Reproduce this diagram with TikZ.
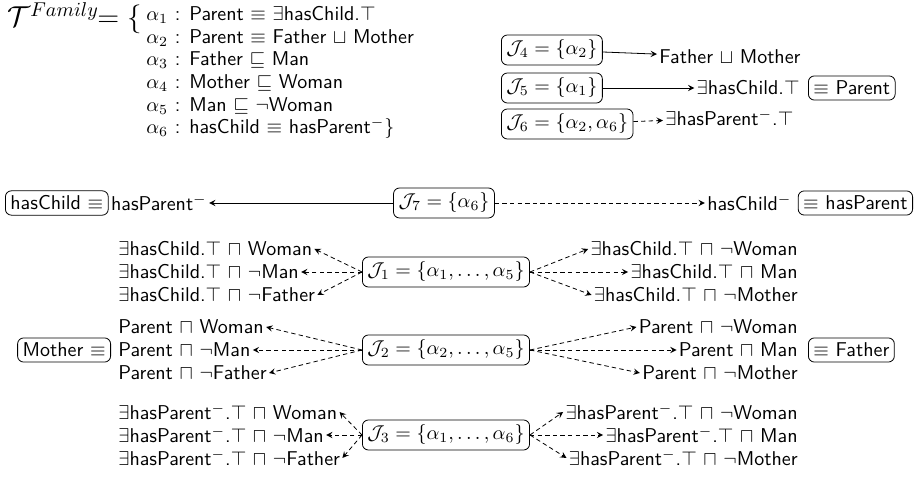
\documentclass[tikz,border=0pt]{standalone}
\usepackage{amsmath,amssymb}
\usetikzlibrary{shapes,arrows,positioning}

\newcommand{\hc}{$\exists$hasChild.$\top$}
\newcommand{\hp}{$\exists$hasParent$^-$.$\top$}

\begin{document}
\begin{tikzpicture}[x=0.5pt, y=-0.5pt, font=\sffamily]
\tikzstyle{setbox}=[rectangle, draw, rounded corners=3pt, inner sep=2.5pt]
\tikzstyle{concept}=[inner sep=1pt]
\tikzstyle{solidarrow}=[-stealth]
\tikzstyle{dashedarrow}=[dash pattern=on 2.2pt off 1.6pt, -stealth]

\useasboundingbox (0,0) rectangle (918,485);

% the TBox
\node[anchor=base east, inner sep=0pt, font=\Large] (TF) at (142,27) {$\mathcal{T}^{Family}\!\!=\{$};
\node[anchor=base west, inner sep=0pt] (A1) at (146,21) {$\alpha_1$ : Parent $\equiv$ \hc};
\node[anchor=base west, inner sep=0pt] (A2) at (146,44) {$\alpha_2$ : Parent $\equiv$ Father $\sqcup$ Mother};
\node[anchor=base west, inner sep=0pt] (A3) at (146,66) {$\alpha_3$ : Father $\sqsubseteq$ Man};
\node[anchor=base west, inner sep=0pt] (A4) at (146,89) {$\alpha_4$ : Mother $\sqsubseteq$ Woman};
\node[anchor=base west, inner sep=0pt] (A5) at (146,112) {$\alpha_5$ : Man $\sqsubseteq$ $\neg$Woman};
\node[anchor=base west, inner sep=0pt] (A6) at (146,134) {$\alpha_6$ : hasChild $\equiv$ hasParent$^-\}$};

% J4, J5, J6
\node[setbox, anchor=west] (J4) at (501,50) {$\mathcal{J}_4 = \{\alpha_2\}$};
\node[concept, anchor=west] (J4t) at (657,57) {Father $\sqcup$ Mother};
\draw[solidarrow] (J4) -- (J4t);
\node[setbox, anchor=west] (J5) at (501,88) {$\mathcal{J}_5 = \{\alpha_1\}$};
\node[concept, anchor=east] (J5t) at (802,88) {\hc};
\node[setbox, anchor=west] (P) at (808,88) {$\equiv$ Parent};
\draw[solidarrow] (J5) -- (J5t);
\node[setbox, anchor=west] (J6) at (501,124) {$\mathcal{J}_6 = \{\alpha_2,\alpha_6\}$};
\node[concept, anchor=west] (J6t) at (663,118) {\hp};
\draw[dashedarrow] (J6) -- (J6t);

% J7
\node[setbox] (J7) at (444,203) {$\mathcal{J}_7 = \{\alpha_6\}$};
\node[setbox, anchor=west] (HC) at (5,203) {hasChild $\equiv$};
\node[concept, right=0pt of HC] (J7l) {hasParent$^-$};
\node[setbox, anchor=east] (HP) at (913,203) {$\equiv$ hasParent};
\node[concept, left=2pt of HP] (J7r) {hasChild$^-$};
\draw[solidarrow] (J7.west) -- (J7l.east);
\draw[dashedarrow] (J7.east) -- (J7r.west);

% J1
\node[setbox] (J1) at (446,272) {$\mathcal{J}_1 = \{\alpha_1,\ldots,\alpha_5\}$};
\node[concept, anchor=west] (J1L1) at (116,249) {\hc{} $\sqcap$ Woman};
\node[concept, anchor=west] (J1L2) at (116,272) {\hc{} $\sqcap$ $\neg$Man};
\node[concept, anchor=west] (J1L3) at (116,295) {\hc{} $\sqcap$ $\neg$Father};
\node[concept, anchor=east] (J1R1) at (800,249) {\hc{} $\sqcap$ $\neg$Woman};
\node[concept, anchor=east] (J1R2) at (800,272) {\hc{} $\sqcap$ Man};
\node[concept, anchor=east] (J1R3) at (800,295) {\hc{} $\sqcap$ $\neg$Mother};
\draw[dashedarrow] (J1.west) -- (J1L1.east);
\draw[dashedarrow] (J1.west) -- (J1L2.east);
\draw[dashedarrow] (J1.west) -- (J1L3.east);
\draw[dashedarrow] (J1.east) -- (J1R1.west);
\draw[dashedarrow] (J1.east) -- (J1R2.west);
\draw[dashedarrow] (J1.east) -- (J1R3.west);

% J2
\node[setbox] (J2) at (446,350) {$\mathcal{J}_2 = \{\alpha_2,\ldots,\alpha_5\}$};
\node[setbox, anchor=east] (M) at (111,350) {Mother $\equiv$};
\node[concept, anchor=west] (J2L1) at (116,327) {Parent $\sqcap$ Woman};
\node[concept, anchor=west] (J2L2) at (116,350) {Parent $\sqcap$ $\neg$Man};
\node[concept, anchor=west] (J2L3) at (116,373) {Parent $\sqcap$ $\neg$Father};
\node[concept, anchor=east] (J2R1) at (800,327) {Parent $\sqcap$ $\neg$Woman};
\node[concept, anchor=east] (J2R2) at (800,350) {Parent $\sqcap$ Man};
\node[concept, anchor=east] (J2R3) at (800,373) {Parent $\sqcap$ $\neg$Mother};
\node[setbox, anchor=west] (F) at (808,350) {$\equiv$ Father};
\draw[dashedarrow] (J2.west) -- (J2L1.east);
\draw[dashedarrow] (J2.west) -- (J2L2.east);
\draw[dashedarrow] (J2.west) -- (J2L3.east);
\draw[dashedarrow] (J2.east) -- (J2R1.west);
\draw[dashedarrow] (J2.east) -- (J2R2.west);
\draw[dashedarrow] (J2.east) -- (J2R3.west);

% J3
\node[setbox] (J3) at (446,435) {$\mathcal{J}_3 = \{\alpha_1,\ldots,\alpha_6\}$};
\node[concept, anchor=west] (J3L1) at (116,412) {\hp{} $\sqcap$ Woman};
\node[concept, anchor=west] (J3L2) at (116,435) {\hp{} $\sqcap$ $\neg$Man};
\node[concept, anchor=west] (J3L3) at (116,458) {\hp{} $\sqcap$ $\neg$Father};
\node[concept, anchor=east] (J3R1) at (800,412) {\hp{} $\sqcap$ $\neg$Woman};
\node[concept, anchor=east] (J3R2) at (800,435) {\hp{} $\sqcap$ Man};
\node[concept, anchor=east] (J3R3) at (800,458) {\hp{} $\sqcap$ $\neg$Mother};
\draw[dashedarrow] (J3.west) -- (J3L1.east);
\draw[dashedarrow] (J3.west) -- (J3L2.east);
\draw[dashedarrow] (J3.west) -- (J3L3.east);
\draw[dashedarrow] (J3.east) -- (J3R1.west);
\draw[dashedarrow] (J3.east) -- (J3R2.west);
\draw[dashedarrow] (J3.east) -- (J3R3.west);
\end{tikzpicture}
\end{document}
